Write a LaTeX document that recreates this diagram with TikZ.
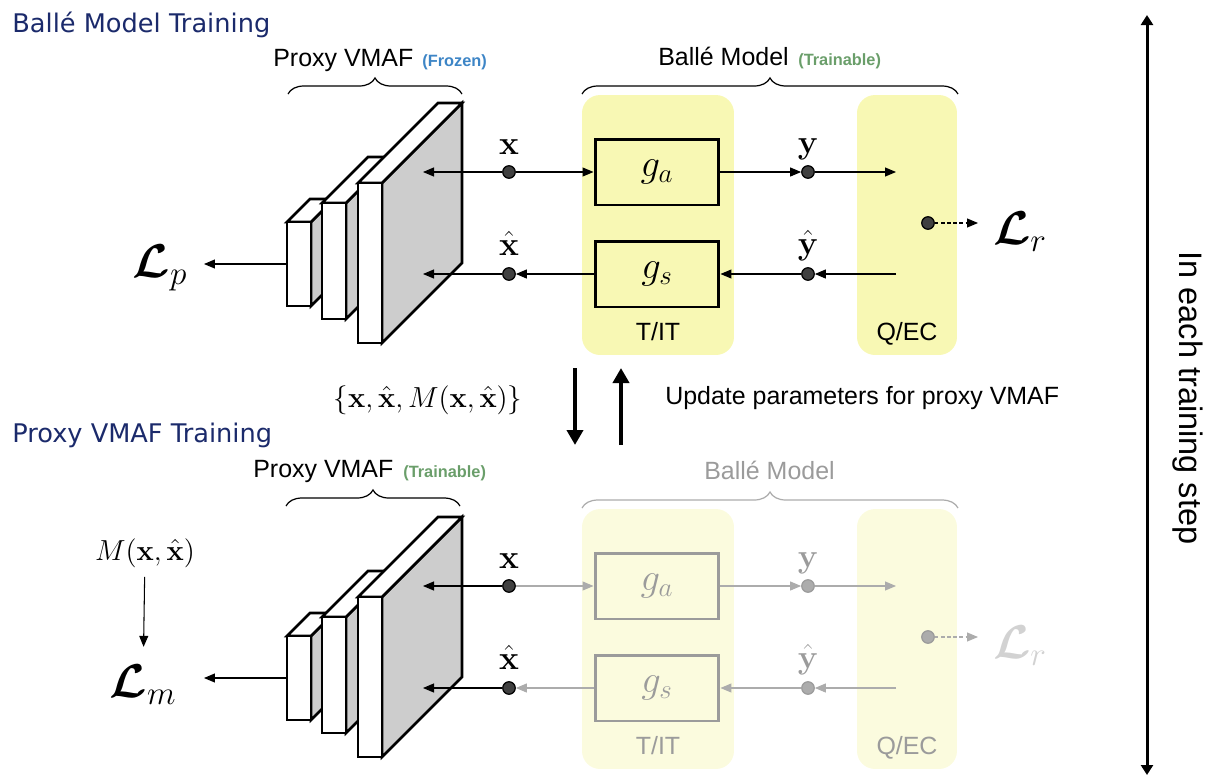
\RequirePackage{fix-cm}
\documentclass[tikz,border=0pt]{standalone}
\usepackage{amsmath,bm}
\usepackage[no-math]{fontspec}
\setmainfont{Liberation Sans}
\newfontfamily\titlefont{DejaVu Sans}
\usetikzlibrary{arrows.meta, positioning, decorations.pathreplacing}

\definecolor{titleblue}{RGB}{27,42,107}
\definecolor{frozenblue}{RGB}{61,133,198}
\definecolor{traingreen}{RGB}{106,158,106}
\definecolor{panelyellow}{RGB}{248,248,180}
\definecolor{fadeyellow}{RGB}{251,251,222}
\definecolor{slabgray}{RGB}{205,205,205}
\definecolor{dotgray}{RGB}{64,64,64}
\definecolor{fadegray}{RGB}{155,155,155}
\definecolor{fadeline}{RGB}{172,172,172}
\definecolor{fadeloss}{RGB}{210,210,210}

\begin{document}
\begin{tikzpicture}[
    x=0.02cm, y=-0.02cm,
    title/.style={font=\titlefont\fontsize{14.6}{17}\selectfont, text=titleblue, anchor=base west, inner sep=0},
    lbl/.style={font=\fontsize{14.2}{17}\selectfont, anchor=base west, inner sep=0},
    tag/.style={font=\bfseries\fontsize{9.3}{11}\selectfont, anchor=base west, inner sep=0},
    panel/.style={rectangle, rounded corners=0.36cm, minimum height=5.2cm, inner sep=0, draw=none},
    fnbox/.style={rectangle, draw, line width=1.7pt, minimum width=2.48cm, minimum height=1.32cm, inner sep=0, font=\fontsize{22}{24}\selectfont},
    dot/.style={circle, draw, line width=0.7pt, fill=dotgray, minimum size=2.5mm, inner sep=0},
    var/.style={font=\fontsize{19}{21}\selectfont, anchor=base, inner sep=0},
    loss/.style={font=\fontsize{27}{30}\selectfont, inner sep=0},
    arr/.style={-{Triangle[length=2.2mm,width=1.8mm]}, line width=0.6pt},
    bigarr/.style={-{Triangle[length=3mm,width=3.2mm]}, line width=2.5pt},
    brc/.style={decorate, decoration={brace, amplitude=0.32cm}, line width=0.7pt},
    slab/.style={line width=1.5pt}
]
    \useasboundingbox (0,0) rectangle (1205,778);

    % ---------- Ballé model training ----------
    \node[title] (ttl1) at (12,32) {Ballé Model Training};
    \node[lbl] (pv1) at (273,66) {Proxy VMAF};
    \node[tag, text=frozenblue] (frz1) at (422,66) {(Frozen)};
    \node[lbl] (bm1) at (658,65) {Ballé Model};
    \node[tag, text=traingreen] (trn1) at (798,65) {(Trainable)};
    \draw[brc] (288,94) -- (462,94);
    \draw[brc] (582,94) -- (958,94);

    % proxy VMAF network
    \foreach \sx/\st/\sb/\sd in {287/222/306/23, 322/203/319/46, 358/183/343/80} {
        \filldraw[slab, fill=slabgray] (\sx+24,\st) -- ++(\sd,-\sd) -- ++(0,\sb-\st) -- (\sx+24,\sb) -- cycle;
        \filldraw[slab, fill=white] (\sx,\st) -- ++(\sd,-\sd) -- ++(24,0) -- (\sx+24,\st) -- cycle;
        \filldraw[slab, fill=white] (\sx,\st) rectangle (\sx+24,\sb);
    }

    % Ballé model blocks
    \node[panel, minimum width=3.04cm, fill=panelyellow] (tit1) at (658,225) {};
    \node[panel, minimum width=2cm, fill=panelyellow] (qec1) at (907,225) {};
    \node[lbl, anchor=base] (titl1) at (658,340) {T/IT};
    \node[lbl, anchor=base] (qecl1) at (907,340) {Q/EC};
    \node[fnbox] (ga1) at (657,172) {$g_a$};
    \node[fnbox] (gs1) at (657,274) {$g_s$};

    \node[dot] (x1) at (509,172) {};
    \node[dot] (xh1) at (509,274) {};
    \node[dot] (y1) at (808,172) {};
    \node[dot] (yh1) at (808,274) {};
    \node[dot] (q1) at (928,223) {};
    \node[var] (xl1) at (509,154) {$\mathbf{x}$};
    \node[var] (xhl1) at (509,255) {$\hat{\mathbf{x}}$};
    \node[var] (yl1) at (808,153) {$\mathbf{y}$};
    \node[var] (yhl1) at (808,254) {$\hat{\mathbf{y}}$};

    \coordinate (vin1a) at (423,172);
    \coordinate (vin1b) at (423,274);
    \coordinate (qin1) at (896,172);
    \coordinate (qout1) at (896,274);
    \coordinate (lrend1) at (978,223);
    \coordinate (slabout1) at (287,264);
    \coordinate (lpend) at (204,264);

    \node[loss] (lp) at (160,268) {$\bm{\mathcal{L}}_p$};
    \node[loss] (lr1) at (1020,232) {$\bm{\mathcal{L}}_r$};

    \draw[arr] (x1) -- (vin1a);
    \draw[arr] (x1) -- (ga1);
    \draw[arr] (ga1) -- (y1);
    \draw[arr] (y1) -- (qin1);
    \draw[arr] (qout1) -- (yh1);
    \draw[arr] (yh1) -- (gs1);
    \draw[arr] (gs1) -- (xh1);
    \draw[arr] (xh1) -- (vin1b);
    \draw[arr, dash pattern=on 2pt off 1.5pt] (q1) -- (lrend1);
    \draw[arr] (slabout1) -- (lpend);

    % ---------- exchange between the two steps ----------
    \node[var, anchor=center, font=\fontsize{16.5}{20}\selectfont] (triple) at (428,400)
        {$\{\mathbf{x},\hat{\mathbf{x}},M(\mathbf{x},\hat{\mathbf{x}})\}$};
    \coordinate (dtop) at (575,368);
    \coordinate (dbot) at (575,445);
    \coordinate (utop) at (621,368);
    \coordinate (ubot) at (621,445);
    \draw[bigarr] (dtop) -- (dbot);
    \draw[bigarr] (ubot) -- (utop);
    \node[lbl] (upd) at (665,404) {Update parameters for proxy VMAF};

    % ---------- Proxy VMAF training ----------
    \node[title] (ttl2) at (12,442) {Proxy VMAF Training};
    \node[lbl] (pv2) at (253,477) {Proxy VMAF};
    \node[tag, text=traingreen] (trn2) at (403,477) {(Trainable)};
    \node[lbl, text=fadegray] (bm2) at (704,479) {Ballé Model};
    \draw[brc] (286,506) -- (460,506);
    \draw[brc, fadeline] (582,508) -- (958,508);

    \begin{scope}[shift={(0,414)}]
        \foreach \sx/\st/\sb/\sd in {287/222/306/23, 322/203/319/46, 358/183/343/80} {
            \filldraw[slab, fill=slabgray] (\sx+24,\st) -- ++(\sd,-\sd) -- ++(0,\sb-\st) -- (\sx+24,\sb) -- cycle;
            \filldraw[slab, fill=white] (\sx,\st) -- ++(\sd,-\sd) -- ++(24,0) -- (\sx+24,\st) -- cycle;
            \filldraw[slab, fill=white] (\sx,\st) rectangle (\sx+24,\sb);
        }
    \end{scope}

    \node[panel, minimum width=3.04cm, fill=fadeyellow] (tit2) at (658,639) {};
    \node[panel, minimum width=2cm, fill=fadeyellow] (qec2) at (907,639) {};
    \node[lbl, anchor=base, text=fadegray] (titl2) at (658,754) {T/IT};
    \node[lbl, anchor=base, text=fadegray] (qecl2) at (907,754) {Q/EC};
    \node[fnbox, draw=fadegray, text=fadegray] (ga2) at (657,586) {$g_a$};
    \node[fnbox, draw=fadegray, text=fadegray] (gs2) at (657,688) {$g_s$};

    \node[dot] (x2) at (509,586) {};
    \node[dot] (xh2) at (509,688) {};
    \node[dot, draw=fadegray, fill=fadeline] (y2) at (808,586) {};
    \node[dot, draw=fadegray, fill=fadeline] (yh2) at (808,688) {};
    \node[dot, draw=fadegray, fill=fadeline] (q2) at (928,637) {};
    \node[var] (xl2) at (509,568) {$\mathbf{x}$};
    \node[var] (xhl2) at (509,669) {$\hat{\mathbf{x}}$};
    \node[var, text=fadegray] (yl2) at (808,567) {$\mathbf{y}$};
    \node[var, text=fadegray] (yhl2) at (808,668) {$\hat{\mathbf{y}}$};

    \coordinate (vin2a) at (423,586);
    \coordinate (vin2b) at (423,688);
    \coordinate (qin2) at (896,586);
    \coordinate (qout2) at (896,688);
    \coordinate (lrend2) at (978,637);
    \coordinate (slabout2) at (287,678);
    \coordinate (lmend) at (204,678);

    \node[var, anchor=center, font=\fontsize{16.5}{20}\selectfont] (mval) at (145,553) {$M(\mathbf{x},\hat{\mathbf{x}})$};
    \node[loss] (lm) at (143,685) {$\bm{\mathcal{L}}_m$};
    \node[loss, text=fadeloss] (lr2) at (1020,646) {$\bm{\mathcal{L}}_r$};

    \draw[arr] (x2) -- (vin2a);
    \draw[arr, fadeline] (x2) -- (ga2);
    \draw[arr, fadeline] (ga2) -- (y2);
    \draw[arr, fadeline] (y2) -- (qin2);
    \draw[arr, fadeline] (qout2) -- (yh2);
    \draw[arr, fadeline] (yh2) -- (gs2);
    \draw[arr, fadeline] (gs2) -- (xh2);
    \draw[arr] (xh2) -- (vin2b);
    \draw[arr, fadeline, dash pattern=on 2pt off 1.5pt] (q2) -- (lrend2);
    \draw[arr] (slabout2) -- (lmend);
    \draw[arr, shorten <=0.18cm, shorten >=0.36cm] (mval) -- (lm);

    % ---------- one training step ----------
    \coordinate (stepTop) at (1147,15);
    \coordinate (stepBot) at (1147,775);
    \draw[{Triangle[length=2mm,width=2.4mm]}-{Triangle[length=2mm,width=2.4mm]}, line width=1.7pt] (stepTop) -- (stepBot);
    \node[rotate=-90, font=\fontsize{18.5}{22}\selectfont, inner sep=0] (steplbl) at (1188,398) {In each training step};
\end{tikzpicture}
\end{document}
